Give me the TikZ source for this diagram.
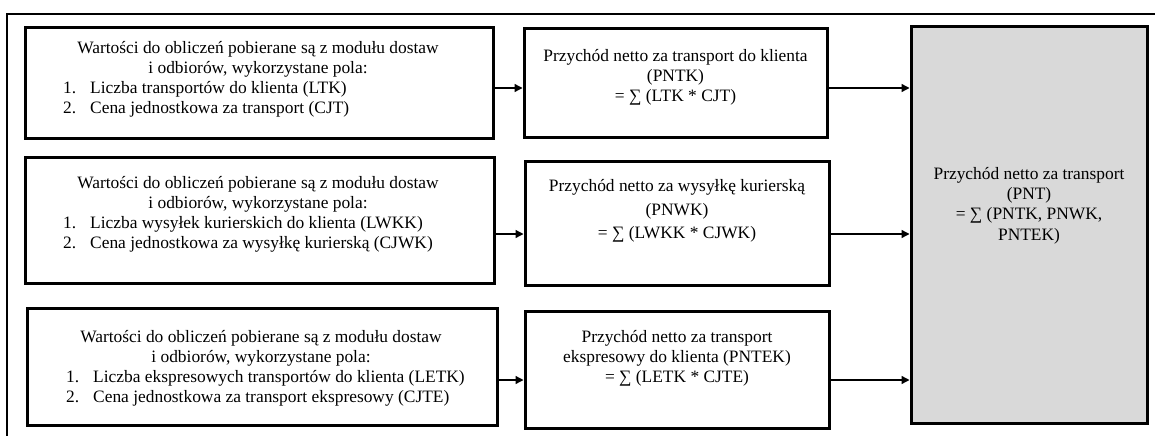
\documentclass[tikz,border=0pt]{standalone}
\usepackage{fontspec}
\setmainfont{Liberation Serif}
\usetikzlibrary{arrows.meta}
\begin{document}
\begin{tikzpicture}[x=1pt,y=-1pt,
  box/.style={draw=black, line width=3pt, inner sep=0pt, minimum width=#1},
  txt/.style={inner sep=0pt, align=center, font=\fontsize{17.4}{20.2}\selectfont},
  lst/.style={inner sep=0pt, align=left, anchor=west, font=\fontsize{17.4}{20.2}\selectfont},
  arr/.style={line width=1.3pt, -{Triangle[length=8pt,width=8pt]}}]
\useasboundingbox (0,0) rectangle (1155,436);

% outer frame
\draw[line width=2pt] (1155,14) -- (7,14) -- (7,436);

% source boxes
\node[box=468, minimum height=110] (L1) at (259,83) {};
\node[box=469, minimum height=126] (L2) at (259.5,220) {};
\node[box=470, minimum height=117] (L3) at (262,366.5) {};

% partial revenue boxes
\node[box=303, minimum height=108] (M1) at (675.5,83) {};
\node[box=304, minimum height=124] (M2) at (677,223) {};
\node[box=304, minimum height=117] (M3) at (677,369.5) {};

% total revenue box
\node[box=236, minimum height=396, fill=black!15] (G) at (1029,225) {};

% texts of the source boxes
\node[txt] (L1h) at (258,59) {Wartości do obliczeń pobierane są z modułu dostaw\\ i odbiorów, wykorzystane pola:};
\node[lst] (L1l) at (63,99) {\makebox[27pt][l]{1.}Liczba transportów do klienta (LTK)\\ \makebox[27pt][l]{2.}Cena jednostkowa za transport (CJT)};

\node[txt] (L2h) at (258,194) {Wartości do obliczeń pobierane są z modułu dostaw\\ i odbiorów, wykorzystane pola:};
\node[lst] (L2l) at (63,234) {\makebox[27pt][l]{1.}Liczba wysyłek kurierskich do klienta (LWKK)\\ \makebox[27pt][l]{2.}Cena jednostkowa za wysyłkę kurierską (CJWK)};

\node[txt] (L3h) at (261,348) {Wartości do obliczeń pobierane są z modułu dostaw\\ i odbiorów, wykorzystane pola:};
\node[lst] (L3l) at (66,388) {\makebox[27pt][l]{1.}Liczba ekspresowych transportów do klienta (LETK)\\ \makebox[27pt][l]{2.}Cena jednostkowa za transport ekspresowy (CJTE)};

% texts of the partial revenue boxes
\node[txt] (M1t) at (675.5,77.5) {Przychód netto za transport do klienta\\ (PNTK)\\ = ∑ (LTK * CJT)};
\node[txt] (M2t) at (677,211) {Przychód netto za wysyłkę kurierską\\[3.5pt] (PNWK)\\[3.5pt] = ∑ (LWKK * CJWK)};
\node[txt] (M3t) at (677,358) {Przychód netto za transport\\ ekspresowy do klienta (PNTEK)\\ = ∑ (LETK * CJTE)};

% text of the total box
\node[txt] (Gt) at (1029,205.5) {Przychód netto za transport\\ (PNT)\\ = ∑ (PNTK, PNWK,\\ PNTEK)};

% connectors
\draw[arr] (L1.east |- 0,88) -- (M1.west |- 0,88);
\draw[arr] (L2.east |- 0,234) -- (M2.west |- 0,234);
\draw[arr] (L3.east |- 0,380) -- (M3.west |- 0,380);
\draw[arr] (M1.east |- 0,88) -- (G.west |- 0,88);
\draw[arr] (M2.east |- 0,234) -- (G.west |- 0,234);
\draw[arr] (M3.east |- 0,380) -- (G.west |- 0,380);
\end{tikzpicture}
\end{document}
